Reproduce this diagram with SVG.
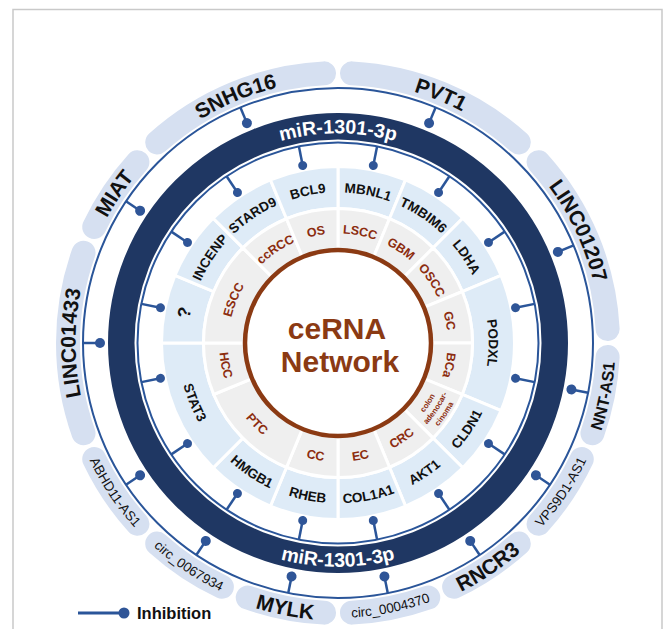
<svg xmlns="http://www.w3.org/2000/svg" xmlns:xlink="http://www.w3.org/1999/xlink" width="665" height="629" viewBox="0 0 665 629">
<style>
text{font-family:"Liberation Sans",Arial,sans-serif}
.band{fill:none;stroke:#d6e0f1;stroke-width:24;stroke-linecap:round}
.gene{fill:#deebf7;stroke:#fff;stroke-width:3;stroke-linejoin:miter}
.canc{fill:#efefef;stroke:#fff;stroke-width:3}
.thin{fill:none;stroke:#2a5599;stroke-width:2}
.knob line{stroke:#2a5599;stroke-width:2.5}
.knob circle{fill:#2f5597}
.lncB{font-size:21px;font-weight:bold;fill:#111}
.lncM{font-size:16.5px;font-weight:bold;fill:#111}
.lncS{font-size:13.5px;fill:#111}
.gt{font-size:13.5px;font-weight:bold;fill:#111}
.ct{font-size:12.5px;font-weight:bold;fill:#8c2d0f}
.cs{font-size:7.8px;font-weight:bold;fill:#8c2d0f}
.mir{font-size:19.5px;font-weight:bold;fill:#fff}
.cen{font-size:30px;font-weight:bold;fill:#8b3a13}
</style>
<defs>
<path id="b45" d="M351.99,73.36 A270,270 0 0 1 518.77,142.45"/>
<path id="b22" d="M351.99,73.36 A270,270 0 0 1 428.26,88.53"/>
<path id="g22" d="M338,166.5 A176.5,176.5 0 0 1 405.54,179.93 L389.47,218.74 A134.5,134.5 0 0 0 338,208.5 Z"/>
<path id="g45" d="M338,166.5 A176.5,176.5 0 0 1 462.8,218.2 L433.11,247.89 A134.5,134.5 0 0 0 338,208.5 Z"/>
<path id="c22" d="M338,208.5 A134.5,134.5 0 0 1 389.47,218.74 L373.59,257.08 A93,93 0 0 0 338,250 Z"/>
<path id="c45" d="M338,208.5 A134.5,134.5 0 0 1 433.11,247.89 L403.76,277.24 A93,93 0 0 0 338,250 Z"/>
<g id="kin" class="knob"><line x1="338" y1="142.5" x2="338" y2="162"/><circle cx="338" cy="162" r="4.5"/></g>
<g id="kout" class="knob"><line x1="338" y1="88" x2="338" y2="105"/><circle cx="338" cy="105" r="5"/></g>
<path id="tO" d="M75.5,343 A262.5,262.5 0 0 1 600.5,343"/>
<path id="bOB" d="M60.5,343 A277.5,277.5 0 0 0 615.5,343"/>
<path id="bOS" d="M63.3,343 A274.7,274.7 0 0 0 612.7,343"/>
<path id="tM" d="M128.2,343 A209.8,209.8 0 0 1 547.8,343"/>
<path id="bM" d="M114.3,343 A223.7,223.7 0 0 0 561.7,343"/>
<path id="tG" d="M187.3,343 A150.7,150.7 0 0 1 488.7,343"/>
<path id="bG" d="M177.7,343 A160.3,160.3 0 0 0 498.3,343"/>
<path id="tC" d="M228.4,343 A109.6,109.6 0 0 1 447.6,343"/>
<path id="bC" d="M219.2,343 A118.8,118.8 0 0 0 456.8,343"/>
<path id="bC1" d="M227.5,343 A110.5,110.5 0 0 0 448.5,343"/>
<path id="bC2" d="M217.5,343 A120.5,120.5 0 0 0 458.5,343"/>
<path id="bC3" d="M207.5,343 A130.5,130.5 0 0 0 468.5,343"/>
</defs>

<rect id="frame" x="13" y="9.5" width="649" height="640" fill="none" stroke="#c9c9c9" stroke-width="1.5"/>

<g id="lncRNAs">
<g id="SNHG16"><use href="#b45" class="band" transform="rotate(315 338 343)"/><text class="lncB" transform="rotate(337.5 338 343)"><textPath href="#tO" startOffset="50%" text-anchor="middle">SNHG16</textPath></text></g>
<g id="PVT1"><use href="#b45" class="band" transform="rotate(0 338 343)"/><text class="lncB" transform="rotate(22.5 338 343)"><textPath href="#tO" startOffset="50%" text-anchor="middle">PVT1</textPath></text></g>
<g id="LINC01207"><use href="#b45" class="band" transform="rotate(45 338 343)"/><text class="lncB" transform="rotate(65 338 343)"><textPath href="#tO" startOffset="50%" text-anchor="middle">LINC01207</textPath></text></g>
<g id="NNT-AS1"><use href="#b22" class="band" transform="rotate(90 338 343)"/><text class="lncM" transform="rotate(-78.75 338 343)"><textPath href="#bOB" startOffset="50%" text-anchor="middle">NNT-AS1</textPath></text></g>
<g id="VPS9D1-AS1"><use href="#b22" class="band" transform="rotate(112.5 338 343)"/><text class="lncS" transform="rotate(-56.25 338 343)"><textPath href="#bOS" startOffset="50%" text-anchor="middle">VPS9D1-AS1</textPath></text></g>
<g id="RNCR3"><use href="#b22" class="band" transform="rotate(135 338 343)"/><text class="lncB" transform="rotate(-33.75 338 343)"><textPath href="#bOB" startOffset="50%" text-anchor="middle">RNCR3</textPath></text></g>
<g id="circ_0004370"><use href="#b22" class="band" transform="rotate(157.5 338 343)"/><text class="lncS" transform="rotate(-11.25 338 343)"><textPath href="#bOS" startOffset="50%" text-anchor="middle">circ_0004370</textPath></text></g>
<g id="MYLK"><use href="#b22" class="band" transform="rotate(180 338 343)"/><text class="lncB" transform="rotate(11.25 338 343)"><textPath href="#bOB" startOffset="50%" text-anchor="middle">MYLK</textPath></text></g>
<g id="circ_0067934"><use href="#b22" class="band" transform="rotate(202.5 338 343)"/><text class="lncS" transform="rotate(33.75 338 343)"><textPath href="#bOS" startOffset="50%" text-anchor="middle">circ_0067934</textPath></text></g>
<g id="ABHD11-AS1"><use href="#b22" class="band" transform="rotate(225 338 343)"/><text class="lncS" transform="rotate(56.25 338 343)"><textPath href="#bOS" startOffset="50%" text-anchor="middle">ABHD11-AS1</textPath></text></g>
<g id="LINC01433"><use href="#b45" class="band" transform="rotate(247.5 338 343)"/><text class="lncB" transform="rotate(270 338 343)"><textPath href="#tO" startOffset="50%" text-anchor="middle">LINC01433</textPath></text></g>
<g id="MIAT"><use href="#b22" class="band" transform="rotate(292.5 338 343)"/><text class="lncB" transform="rotate(303.75 338 343)"><textPath href="#tO" startOffset="50%" text-anchor="middle">MIAT</textPath></text></g>
</g>

<g id="miR-1301-3p">
<circle cx="338" cy="343" r="255" class="thin"/>
<circle cx="338" cy="343" r="216.75" fill="none" stroke="#1f3763" stroke-width="26.5"/>
<circle cx="338" cy="343" r="200.5" class="thin"/>
<text class="mir"><textPath href="#tM" startOffset="50%" text-anchor="middle">miR-1301-3p</textPath></text>
<text class="mir"><textPath href="#bM" startOffset="50%" text-anchor="middle">miR-1301-3p</textPath></text>
</g>

<g id="genes">
<g id="MBNL1"><use href="#g22" class="gene"/><text class="gt" transform="rotate(11.25 338 343)"><textPath href="#tG" startOffset="50%" text-anchor="middle">MBNL1</textPath></text></g>
<g id="TMBIM6"><use href="#g22" class="gene" transform="rotate(22.5 338 343)"/><text class="gt" transform="rotate(33.75 338 343)"><textPath href="#tG" startOffset="50%" text-anchor="middle">TMBIM6</textPath></text></g>
<g id="LDHA"><use href="#g22" class="gene" transform="rotate(45 338 343)"/><text class="gt" transform="rotate(56.25 338 343)"><textPath href="#tG" startOffset="50%" text-anchor="middle">LDHA</textPath></text></g>
<g id="PODXL"><use href="#g45" class="gene" transform="rotate(67.5 338 343)"/><text class="gt" transform="rotate(90 338 343)"><textPath href="#tG" startOffset="50%" text-anchor="middle">PODXL</textPath></text></g>
<g id="CLDN1"><use href="#g22" class="gene" transform="rotate(112.5 338 343)"/><text class="gt" transform="rotate(-56.25 338 343)"><textPath href="#bG" startOffset="50%" text-anchor="middle">CLDN1</textPath></text></g>
<g id="AKT1"><use href="#g22" class="gene" transform="rotate(135 338 343)"/><text class="gt" transform="rotate(-33.75 338 343)"><textPath href="#bG" startOffset="50%" text-anchor="middle">AKT1</textPath></text></g>
<g id="COL1A1"><use href="#g22" class="gene" transform="rotate(157.5 338 343)"/><text class="gt" transform="rotate(-11.25 338 343)"><textPath href="#bG" startOffset="50%" text-anchor="middle">COL1A1</textPath></text></g>
<g id="RHEB"><use href="#g22" class="gene" transform="rotate(180 338 343)"/><text class="gt" transform="rotate(11.25 338 343)"><textPath href="#bG" startOffset="50%" text-anchor="middle">RHEB</textPath></text></g>
<g id="HMGB1"><use href="#g22" class="gene" transform="rotate(202.5 338 343)"/><text class="gt" transform="rotate(33.75 338 343)"><textPath href="#bG" startOffset="50%" text-anchor="middle">HMGB1</textPath></text></g>
<g id="STAT3"><use href="#g45" class="gene" transform="rotate(225 338 343)"/><text class="gt" transform="rotate(67.5 338 343)"><textPath href="#bG" startOffset="50%" text-anchor="middle">STAT3</textPath></text></g>
<g id="unknown"><use href="#g22" class="gene" transform="rotate(270 338 343)"/><text class="gt" style="font-size:18px" transform="rotate(281.25 338 343)"><textPath href="#tG" startOffset="50%" text-anchor="middle">?</textPath></text></g>
<g id="INCENP"><use href="#g22" class="gene" transform="rotate(292.5 338 343)"/><text class="gt" transform="rotate(303.75 338 343)"><textPath href="#tG" startOffset="50%" text-anchor="middle">INCENP</textPath></text></g>
<g id="STARD9"><use href="#g22" class="gene" transform="rotate(315 338 343)"/><text class="gt" transform="rotate(326.25 338 343)"><textPath href="#tG" startOffset="50%" text-anchor="middle">STARD9</textPath></text></g>
<g id="BCL9"><use href="#g22" class="gene" transform="rotate(337.5 338 343)"/><text class="gt" transform="rotate(348.75 338 343)"><textPath href="#tG" startOffset="50%" text-anchor="middle">BCL9</textPath></text></g>
</g>

<g id="cancers">
<g id="LSCC"><use href="#c22" class="canc"/><text class="ct" transform="rotate(11.25 338 343)"><textPath href="#tC" startOffset="50%" text-anchor="middle">LSCC</textPath></text></g>
<g id="GBM"><use href="#c22" class="canc" transform="rotate(22.5 338 343)"/><text class="ct" transform="rotate(33.75 338 343)"><textPath href="#tC" startOffset="50%" text-anchor="middle">GBM</textPath></text></g>
<g id="OSCC"><use href="#c22" class="canc" transform="rotate(45 338 343)"/><text class="ct" transform="rotate(56.25 338 343)"><textPath href="#tC" startOffset="50%" text-anchor="middle">OSCC</textPath></text></g>
<g id="GC"><use href="#c22" class="canc" transform="rotate(67.5 338 343)"/><text class="ct" transform="rotate(78.75 338 343)"><textPath href="#tC" startOffset="50%" text-anchor="middle">GC</textPath></text></g>
<g id="BCa"><use href="#c22" class="canc" transform="rotate(90 338 343)"/><text class="ct" transform="rotate(101.25 338 343)"><textPath href="#tC" startOffset="50%" text-anchor="middle">BCa</textPath></text></g>
<g id="colon-adenocarcinoma"><use href="#c22" class="canc" transform="rotate(112.5 338 343)"/>
<text class="cs" transform="rotate(-56.25 338 343)"><textPath href="#bC1" startOffset="50%" text-anchor="middle">colon</textPath></text>
<text class="cs" transform="rotate(-56.25 338 343)"><textPath href="#bC2" startOffset="50%" text-anchor="middle">adenocar-</textPath></text>
<text class="cs" transform="rotate(-56.25 338 343)"><textPath href="#bC3" startOffset="50%" text-anchor="middle">cinoma</textPath></text></g>
<g id="CRC"><use href="#c22" class="canc" transform="rotate(135 338 343)"/><text class="ct" transform="rotate(-33.75 338 343)"><textPath href="#bC" startOffset="50%" text-anchor="middle">CRC</textPath></text></g>
<g id="EC"><use href="#c22" class="canc" transform="rotate(157.5 338 343)"/><text class="ct" transform="rotate(-11.25 338 343)"><textPath href="#bC" startOffset="50%" text-anchor="middle">EC</textPath></text></g>
<g id="CC"><use href="#c22" class="canc" transform="rotate(180 338 343)"/><text class="ct" transform="rotate(11.25 338 343)"><textPath href="#bC" startOffset="50%" text-anchor="middle">CC</textPath></text></g>
<g id="PTC"><use href="#c45" class="canc" transform="rotate(202.5 338 343)"/><text class="ct" transform="rotate(45 338 343)"><textPath href="#bC" startOffset="50%" text-anchor="middle">PTC</textPath></text></g>
<g id="HCC"><use href="#c22" class="canc" transform="rotate(247.5 338 343)"/><text class="ct" transform="rotate(78.75 338 343)"><textPath href="#bC" startOffset="50%" text-anchor="middle">HCC</textPath></text></g>
<g id="ESCC"><use href="#c45" class="canc" transform="rotate(270 338 343)"/><text class="ct" transform="rotate(292.5 338 343)"><textPath href="#tC" startOffset="50%" text-anchor="middle">ESCC</textPath></text></g>
<g id="ccRCC"><use href="#c22" class="canc" transform="rotate(315 338 343)"/><text class="ct" transform="rotate(326.25 338 343)"><textPath href="#tC" startOffset="50%" text-anchor="middle">ccRCC</textPath></text></g>
<g id="OS"><use href="#c22" class="canc" transform="rotate(337.5 338 343)"/><text class="ct" transform="rotate(348.75 338 343)"><textPath href="#tC" startOffset="50%" text-anchor="middle">OS</textPath></text></g>
</g>

<g id="ceRNA-network">
<circle cx="338" cy="343" r="93" fill="#fff" stroke="#8b3a13" stroke-width="4.5"/>
<text class="cen" x="337" y="339" text-anchor="middle">ceRNA</text>
<text class="cen" x="340" y="372" text-anchor="middle">Network</text>
</g>

<g id="connectors">
<use href="#kin" transform="rotate(11.25 338 343)"/>
<use href="#kin" transform="rotate(33.75 338 343)"/>
<use href="#kin" transform="rotate(56.25 338 343)"/>
<use href="#kin" transform="rotate(78.75 338 343)"/>
<use href="#kin" transform="rotate(101.25 338 343)"/>
<use href="#kin" transform="rotate(123.75 338 343)"/>
<use href="#kin" transform="rotate(146.25 338 343)"/>
<use href="#kin" transform="rotate(168.75 338 343)"/>
<use href="#kin" transform="rotate(191.25 338 343)"/>
<use href="#kin" transform="rotate(213.75 338 343)"/>
<use href="#kin" transform="rotate(236.25 338 343)"/>
<use href="#kin" transform="rotate(258.75 338 343)"/>
<use href="#kin" transform="rotate(281.25 338 343)"/>
<use href="#kin" transform="rotate(303.75 338 343)"/>
<use href="#kin" transform="rotate(326.25 338 343)"/>
<use href="#kin" transform="rotate(348.75 338 343)"/>
<use href="#kout" transform="rotate(22.5 338 343)"/>
<use href="#kout" transform="rotate(67.5 338 343)"/>
<use href="#kout" transform="rotate(101.25 338 343)"/>
<use href="#kout" transform="rotate(123.75 338 343)"/>
<use href="#kout" transform="rotate(146.25 338 343)"/>
<use href="#kout" transform="rotate(168.75 338 343)"/>
<use href="#kout" transform="rotate(191.25 338 343)"/>
<use href="#kout" transform="rotate(213.75 338 343)"/>
<use href="#kout" transform="rotate(236.25 338 343)"/>
<use href="#kout" transform="rotate(270 338 343)"/>
<use href="#kout" transform="rotate(303.75 338 343)"/>
<use href="#kout" transform="rotate(337.5 338 343)"/>
</g>

<g id="legend">
<line x1="78" y1="613" x2="122" y2="613" stroke="#2a5599" stroke-width="3"/>
<circle cx="124" cy="613" r="5.5" fill="#2f5597"/>
<text x="137" y="619" style="font-size:16.5px;font-weight:bold;fill:#111">Inhibition</text>
</g>
</svg>
